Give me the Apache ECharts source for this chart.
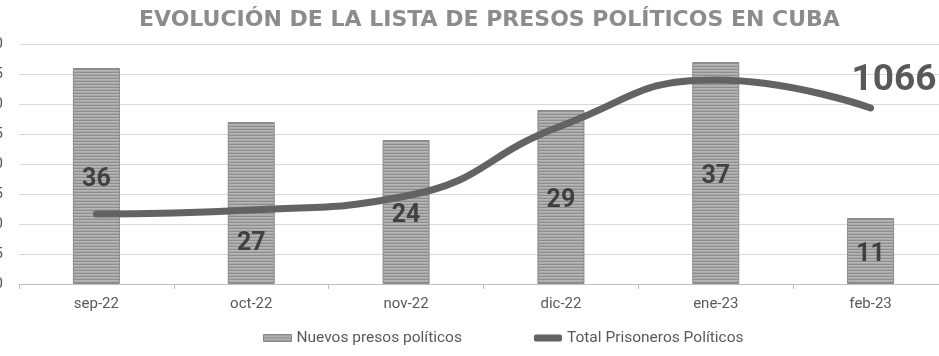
<!DOCTYPE html>
<html><head><meta charset="utf-8">
<script src="https://cdn.jsdelivr.net/npm/echarts@6/dist/echarts.min.js"></script>
<style>html,body{margin:0;padding:0;background:#fff}#c{width:939px;height:356px}</style>
</head><body><div id="c"></div>
<script>
const titleText = 'EVOLUCIÓN DE LA LISTA DE PRESOS POLÍTICOS EN CUBA';
const categories = ['sep-22','oct-22','nov-22','dic-22','ene-23','feb-23'];
const nuevosPresos = [36, 27, 24, 29, 37, 11];
const totalPrisioneros = [1013, 1015, 1022, 1057, 1080, 1066];
const yTicks = [0, 5, 10, 15, 20, 25, 30, 35, 40];
const seriesNames = ['Nuevos presos políticos', 'Total Prisoneros Políticos'];

// styling only
const barLabelOffsetY = [4, 41, 4, 4, 4, 4];

const pc = document.createElement('canvas');
pc.width = 4; pc.height = 3;
const g = pc.getContext('2d');
g.fillStyle = '#8e8e8e'; g.fillRect(0,0,4,1);
g.fillStyle = '#b6b6b6'; g.fillRect(0,1,4,1);
g.fillStyle = '#a9a9a9'; g.fillRect(0,2,4,1);
const barPattern = {image: pc, repeat: 'repeat'};

const chart = echarts.init(document.getElementById('c'), null, {renderer: 'canvas'});
const FONT = 'Roboto';
chart.setOption({
  animation: false,
  backgroundColor: '#ffffff',
  title: {
    text: titleText, left: 134, top: 4,
    textStyle: {fontFamily: 'DejaVu Sans', fontWeight: 'bold', fontSize: 22, color: '#8c8c8c'}
  },
  legend: {
    bottom: 5, left: 258,
    itemGap: 72, itemWidth: 28, itemHeight: 7,
    textStyle: {fontFamily: FONT, fontSize: 15.5, color: '#595959'},
    data: [
      {name: seriesNames[0], icon: 'rect', itemStyle: {color: barPattern, borderColor: '#8a8a8a', borderWidth: 1}},
      {name: seriesNames[1], icon: 'roundRect'}
    ]
  },
  grid: {left: 19, right: -9, top: 44, bottom: 72, containLabel: false, outerBoundsMode: 'none'},
  xAxis: {
    type: 'category', data: categories,
    axisLine: {lineStyle: {color: '#bfbfbf', width: 1}},
    axisTick: {show: true, length: 5, lineStyle: {color: '#bfbfbf'}},
    axisLabel: {fontFamily: FONT, fontSize: 15, color: '#595959', margin: 13}
  },
  yAxis: [{
    type: 'value', min: yTicks[0], max: yTicks[yTicks.length-1], interval: yTicks[1]-yTicks[0],
    axisLine: {show: false}, axisTick: {show: false},
    splitLine: {lineStyle: {color: '#d9d9d9', width: 1}},
    axisLabel: {fontFamily: FONT, fontSize: 15, color: '#595959', margin: 16}
  }, {
    type: 'value', min: 978, max: 1098, show: false, splitLine: {show: false}
  }],
  series: [{
    name: seriesNames[0], type: 'bar', barWidth: 47,
    itemStyle: {color: barPattern, borderColor: '#8a8a8a', borderWidth: 1},
    data: nuevosPresos.map((v, i) => ({value: v, label: {offset: [0, barLabelOffsetY[i]]}})),
    label: {show: true, position: 'inside', fontFamily: FONT, fontWeight: 'bold', fontSize: 25, color: '#404040'},
    z: 2
  }, {
    name: seriesNames[1], type: 'line', yAxisIndex: 1, smooth: 0.5,
    showSymbol: false, symbol: 'none',
    lineStyle: {color: '#636363', width: 7, cap: 'round'},
    itemStyle: {color: '#636363'},
    endLabel: {show: true, distance: 0, offset: [-19, -27], valueAnimation: false,
      fontFamily: FONT, fontWeight: 'bold', fontSize: 37, color: '#595959',
      formatter: (p) => String(p.value)},
    data: totalPrisioneros,
    z: 3
  }]
});
</script></body></html>
